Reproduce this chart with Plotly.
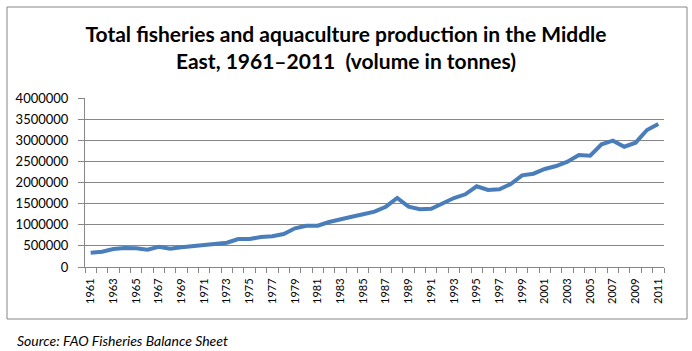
import plotly.graph_objects as go

years = list(range(1961, 2012))
production = [
    338000, 362000, 426000, 450000, 442000, 410000, 480000, 430000, 466000, 497000,
    520000, 544000, 575000, 663000, 663000, 710000, 727000, 781000, 916000, 978000,
    978000, 1065000, 1136000, 1191000, 1247000, 1309000, 1427000, 1633000, 1427000, 1366000,
    1380000, 1508000, 1633000, 1721000, 1910000, 1822000, 1839000, 1965000, 2170000, 2208000,
    2320000, 2390000, 2492000, 2651000, 2634000, 2904000, 2989000, 2847000, 2942000, 3243000,
    3385000,
]
label_years = years[::2]
y_ticks = list(range(0, 4000001, 500000))

title_text = "Total fisheries and aquaculture production in the Middle<br>East, 1961\u20132011  (volume in tonnes)"
source_text = "Source: FAO Fisheries Balance Sheet"

W, H = 692, 351
L, R, T, B = 85, 664, 98, 267


def px_x(x):
    return (x - L) / (R - L)


def px_y(y):
    return (B - y) / (B - T)


fig = go.Figure()
fig.add_trace(go.Scatter(
    x=years, y=production, mode="lines",
    line=dict(color="#4A7EBB", width=4),
    showlegend=False, hoverinfo="x+y",
))

fig.update_layout(
    width=W, height=H,
    margin=dict(l=L, r=W - R, t=T, b=H - B, pad=0),
    paper_bgcolor="white", plot_bgcolor="white",
    font=dict(family="Lato, Arial, sans-serif", color="#000000"),
    title=dict(
        text=title_text, x=0.5, xanchor="center", xref="container",
        y=1 - 42 / H, yanchor="top", yref="container",
        font=dict(family="Lato, Arial, sans-serif", size=21, color="#000000", weight="bold"),
    ),
    xaxis=dict(
        range=[1960.5, 2011.5], tickmode="array", tickvals=label_years,
        ticktext=[str(v) for v in label_years], tickangle=-90,
        ticks="", showgrid=False, zeroline=False,
        showline=True, linecolor="#868686", linewidth=1,
        tickfont=dict(size=11, color="#000000"),
        minor=dict(tickmode="linear", tick0=1960.5, dtick=1, ticks="outside",
                   ticklen=5, tickcolor="#868686", showgrid=False),
        ticklabelstandoff=6,
    ),
    yaxis=dict(
        range=[0, 4000000], tickmode="array", tickvals=y_ticks,
        ticktext=[str(v) for v in y_ticks],
        showgrid=True, gridcolor="#868686", gridwidth=1,
        zeroline=False, showline=True, linecolor="#868686", linewidth=1,
        ticks="outside", ticklen=6, tickcolor="#868686",
        tickfont=dict(size=13, color="#000000"),
        ticklabelstandoff=7,
    ),
)

fig.add_shape(type="rect", xref="paper", yref="paper",
              x0=px_x(7), x1=px_x(687), y0=px_y(319), y1=px_y(7),
              line=dict(color="#868686", width=1), fillcolor="rgba(0,0,0,0)", layer="below")

fig.add_annotation(text=source_text, xref="paper", yref="paper",
                   x=px_x(15), y=px_y(340), xanchor="left", yanchor="middle",
                   showarrow=False,
                   font=dict(family="Lato, Arial, sans-serif", size=14, color="#000000", style="italic"))

fig.write_html("out.html")
